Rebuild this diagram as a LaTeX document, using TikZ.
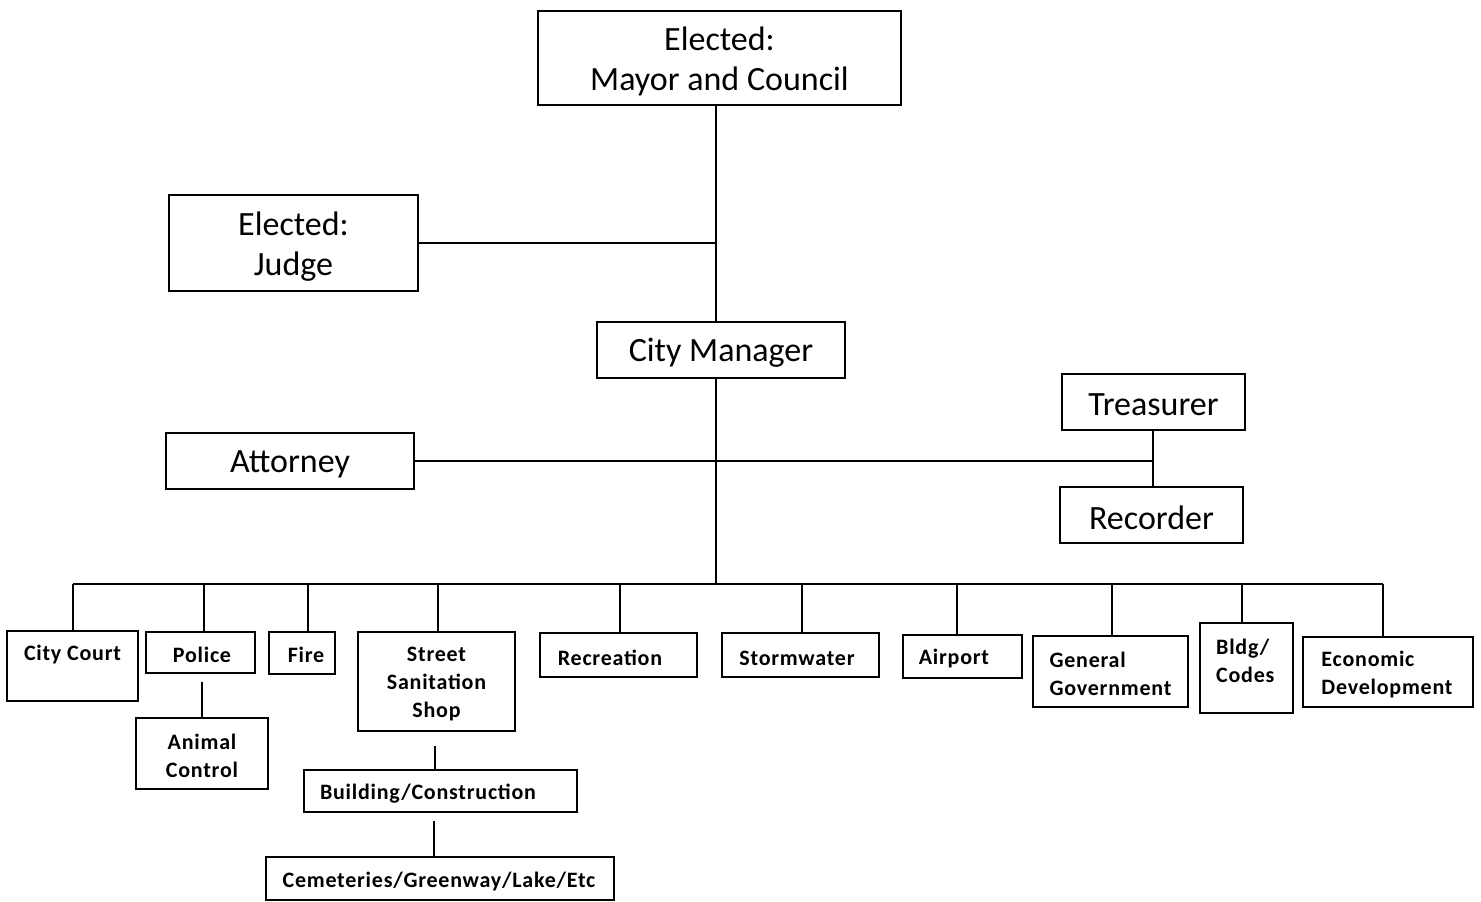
\documentclass[tikz,border=0pt]{standalone}
\usepackage{fontspec}
\setmainfont{Carlito}
\newfontfamily\smallfam[LetterSpace=3.5]{Carlito}
\begin{document}
\begin{tikzpicture}[x=1pt,y=-1pt,
  box/.style={draw,line width=1.5pt,inner sep=0pt},
  big/.style={font=\fontsize{34}{40}\selectfont,align=center,inner sep=0pt,yshift=-3pt},
  small/.style={font=\smallfam\bfseries\fontsize{22}{28}\selectfont,align=center,inner sep=0pt,yshift=-2pt},
  smallL/.style={font=\smallfam\bfseries\fontsize{22}{28}\selectfont,align=left,inner sep=0pt,yshift=-2pt},
  conn/.style={line width=1.5pt}]
\useasboundingbox[fill=white] (0,0) rectangle (1481,902);
% top level
\node[box,minimum width=363pt,minimum height=94pt] (mayor) at (719.5,58) {};
\node[big] (mayorT) at (719.5,58) {Elected:\\Mayor and Council};
\node[box,minimum width=249pt,minimum height=96pt] (judge) at (293.5,243) {};
\node[big] (judgeT) at (293.5,244) {Elected:\\Judge};
\node[box,minimum width=248pt,minimum height=56pt] (cm) at (721,350) {};
\node[big] (cmT) at (721,350) {City Manager};
\node[box,minimum width=248pt,minimum height=56pt] (att) at (290,461) {};
\node[big] (attT) at (290,461) {Attorney};
\node[box,minimum width=183pt,minimum height=56pt] (tre) at (1153.5,402) {};
\node[big] (treT) at (1153.5,402) {Treasurer};
\node[box,minimum width=183pt,minimum height=56pt] (rec) at (1151.5,515) {};
\node[big] (recT) at (1151.5,515) {Recorder};
% departments
\node[box,minimum width=131pt,minimum height=70pt] (cc) at (72.5,666) {};
\node[small] (ccT) at (72.5,653) {City Court};
\node[box,minimum width=109pt,minimum height=41pt] (police) at (200.5,652.5) {};
\node[small] (policeT) at (202,653) {Police};
\node[box,minimum width=132pt,minimum height=71pt] (animal) at (202,753.5) {};
\node[small] (animalT) at (202,754) {Animal\\Control};
\node[box,minimum width=66pt,minimum height=42pt] (fire) at (302,653) {};
\node[small] (fireT) at (306,653) {Fire};
\node[box,minimum width=157pt,minimum height=99pt] (street) at (436.5,681.5) {};
\node[small] (streetT) at (436.5,682) {Street\\Sanitation\\Shop};
\node[box,minimum width=273pt,minimum height=42pt] (build) at (440.5,791) {};
\node[small] (buildT) at (428,792) {Building/Construction};
\node[box,minimum width=348pt,minimum height=43pt] (cem) at (440,878.5) {};
\node[small] (cemT) at (439,880) {Cemeteries/Greenway/Lake/Etc};
\node[box,minimum width=157pt,minimum height=44pt] (recr) at (618.5,655) {};
\node[small] (recrT) at (610,656) {Recreation};
\node[box,minimum width=157pt,minimum height=44pt] (storm) at (800.5,655) {};
\node[small] (stormT) at (797,656) {Stormwater};
\node[box,minimum width=119pt,minimum height=43pt] (air) at (962.5,656.5) {};
\node[small] (airT) at (954,657) {Airport};
\node[box,minimum width=155pt,minimum height=71pt] (gen) at (1110.5,671.5) {};
\node[smallL] (genT) at (1110.5,672) {General\\Government};
\node[box,minimum width=93pt,minimum height=90pt] (bldg) at (1246.5,668) {};
\node[smallL,anchor=west] (bldgT) at (1216,659) {Bldg/\\Codes};
\node[box,minimum width=170pt,minimum height=70pt] (econ) at (1388,672) {};
\node[smallL] (econT) at (1387,673) {Economic\\Development};
% connectors
\coordinate (t) at (716,0);
\coordinate (bus) at (716,584);
\coordinate (tr) at (1153,0);
\draw[conn] (mayor.south -| t) -- (cm.north -| t);
\draw[conn] (judge.east) -- (judge.east -| t);
\draw[conn] (cm.south -| t) -- (bus);
\draw[conn] (att.east) -- (att.east -| tr);
\draw[conn] (tre.south -| tr) -- (rec.north -| tr);
\draw[conn] ([xshift=0.5pt]bus -| cc) -- ([xshift=-5pt]bus -| econ);
\foreach \n/\d in {cc/0.5,police/3.5,fire/6,street/1.5,recr/1.5,storm/1.5,air/-5.5,gen/1.5,bldg/-4.5,econ/-5}
  \draw[conn] ([xshift=\d pt]bus -| \n) -- ([xshift=\d pt]\n.north);
\draw[conn,shorten <=8pt] (animal.north |- police.south) -- (animal.north);
\draw[conn,shorten <=14pt] ([xshift=-1.5pt]street.south) -- ([xshift=-1.5pt]street.south |- build.north);
\draw[conn,shorten <=8pt] ([xshift=-6pt]cem.north |- build.south) -- ([xshift=-6pt]cem.north);
\end{tikzpicture}
\end{document}
